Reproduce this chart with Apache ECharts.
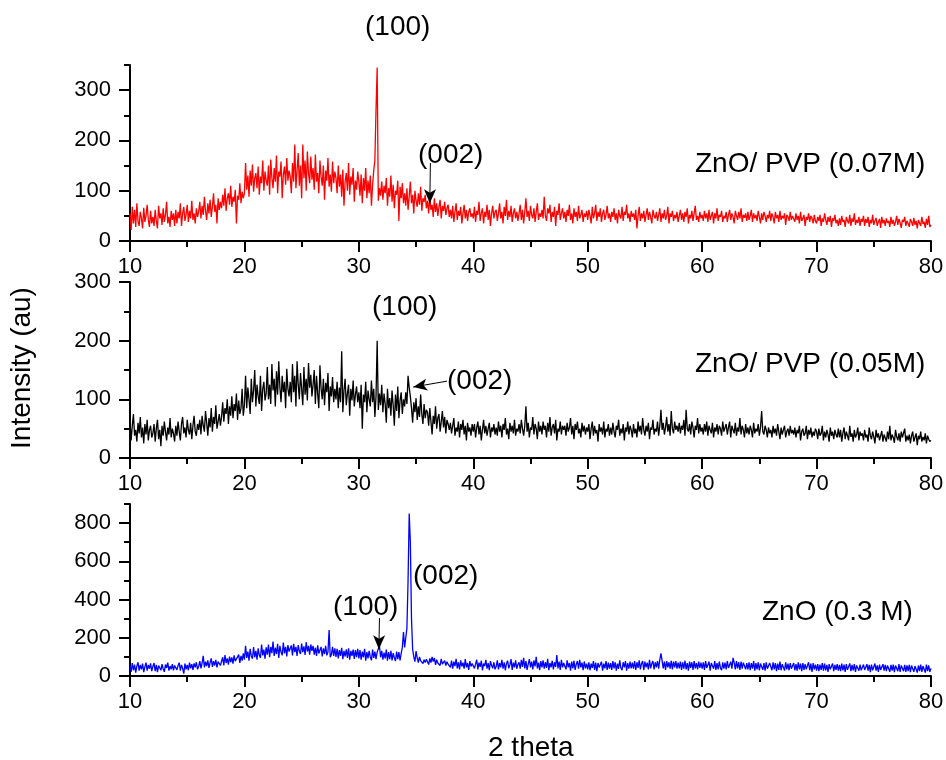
<!DOCTYPE html>
<html>
<head>
<meta charset="utf-8">
<script src="https://cdn.jsdelivr.net/npm/echarts@6/dist/echarts.min.js"></script>
<style>html,body{margin:0;padding:0;background:#fff;}#c{width:946px;height:760px;}</style>
</head>
<body>
<div id="c"></div>
<script>
// 2-theta sampling grid (degrees)
const twoThetaStart = 10;
const twoThetaStep = 0.1;
const xTicks = [10, 20, 30, 40, 50, 60, 70, 80];

// ZnO/ PVP (0.07M) intensities, one value per 0.1 deg from 10 to 80
const pvp007 = [
55,22,68,35,62,28,75,40,30,58, 45,25,66,38,50,72,42,28,60,35,
48,30,62,40,25,70,45,55,32,65, 38,52,78,35,48,28,60,42,55,30,
62,35,58,45,75,30,55,68,40,52, 72,38,60,45,80,42,55,35,65,48,
58,78,45,70,52,88,60,42,75,55, 82,48,68,95,58,72,35,85,62,78,
65,92,70,105,60,85,95,72,110,68, 88,78,102,35,90,82,115,75,98,85,
95,155,102,130,88,140,110,152,98,125, 135,105,148,92,128,115,160,100,138,120,
110,150,92,162,125,105,145,118,170,95, 138,128,158,85,132,148,112,165,120,140,
128,95,155,118,192,105,140,175,110,150, 85,192,125,160,100,178,135,115,168,122,
145,102,172,118,135,95,160,128,110,150, 82,140,120,165,108,132,98,158,115,138,
125,95,150,108,132,88,142,70,118,135, 100,155,92,128,112,145,78,120,102,138,
118,90,132,75,125,100,145,85,120,95, 130,70,112,140,160,262,345,80,105,90,
118,82,110,95,125,70,105,88,130,78, 112,65,100,92,120,40,108,85,115,75,
95,70,105,62,88,118,75,92,55,100, 80,68,95,72,108,60,85,78,92,65,
80,55,88,62,72,48,85,58,75,50, 68,82,45,70,60,78,52,65,72,48,
62,45,70,38,58,75,42,60,50,68, 35,55,72,45,62,40,58,65,48,55,
45,68,38,60,52,78,40,55,65,35, 58,48,72,42,62,30,55,70,45,58,
62,40,55,75,45,58,35,68,50,82, 42,60,48,70,38,55,65,45,58,40,
55,72,42,62,35,58,85,48,60,40, 70,52,45,65,38,58,75,42,55,48,
62,45,88,50,40,65,55,72,38,58, 48,68,30,60,52,75,42,55,65,45,
58,38,62,50,72,42,55,35,65,48, 58,40,70,45,52,62,38,55,48,60,
42,62,50,35,68,45,55,72,40,58, 48,65,38,55,62,42,52,70,45,55,
38,58,48,65,42,55,35,62,50,45, 68,40,58,52,72,45,55,38,60,48,
55,42,62,25,50,68,40,55,45,60, 38,52,65,42,58,48,35,62,50,45,
58,40,52,65,38,55,45,62,42,50, 68,35,55,48,60,40,52,45,58,38,
50,62,42,55,38,58,48,65,35,52, 45,60,40,55,70,42,50,38,58,45,
52,40,60,45,55,38,62,42,50,58, 35,55,45,65,40,52,48,60,38,50,
45,58,38,52,62,42,55,48,35,60, 50,42,58,45,65,38,52,46,55,40,
58,42,50,62,38,55,45,52,40,60, 48,35,55,42,58,50,38,52,45,60,
40,55,48,35,58,45,52,38,60,42, 50,45,55,32,52,48,40,58,42,50,
48,38,55,42,50,35,58,40,45,52, 30,48,42,55,38,50,45,35,52,40,
35,48,40,52,30,45,38,55,42,32, 48,38,50,28,45,40,52,35,42,30,
45,32,50,38,42,28,48,40,35,52, 30,45,38,55,32,42,36,48,30,44,
38,50,30,44,36,48,28,42,35,52, 32,40,46,30,38,44,26,48,35,42,
30,45,36,40,28,48,34,42,30,38, 50,32,44,36,26,42,38,48,30,40,
35,28,44,38,30,46,32,40,25,42, 36,30,48,34,38,26,44,32,50,28,
32];

// ZnO/ PVP (0.05M)
const pvp005 = [
62,30,55,75,38,48,28,60,42,70, 35,52,25,58,40,65,30,48,55,35,
42,58,28,50,65,32,48,20,55,38, 62,45,30,52,40,68,35,50,42,28,
55,38,62,45,30,58,70,42,52,35, 65,48,40,60,32,55,72,45,38,58,
48,65,40,72,55,45,80,60,38,68, 52,85,45,70,58,90,50,62,75,55,
70,95,62,85,75,100,58,88,72,105, 68,92,80,110,65,98,75,85,118,72,
90,140,85,120,100,75,135,95,115,150, 88,125,105,92,140,80,118,130,98,110,
155,100,125,92,160,115,135,88,148,108, 165,120,95,140,112,130,85,152,118,105,
130,95,160,112,140,88,165,125,100,145, 118,90,155,108,135,98,162,120,142,105,
125,150,92,140,110,85,158,118,100,135, 90,128,112,145,80,122,105,138,95,118,
100,130,85,120,95,182,78,115,135,90, 110,125,72,118,98,132,88,108,122,95,
112,85,125,50,108,95,130,78,115,100, 88,132,95,118,70,105,200,82,110,90,
125,78,110,92,60,118,85,102,72,115, 90,55,108,80,122,68,98,112,75,100,
88,112,92,140,120,105,85,60,95,78, 102,65,88,70,108,75,58,92,68,82,
78,55,85,62,40,72,58,88,50,68, 75,45,62,80,52,70,42,65,58,48,
60,42,55,68,38,52,45,62,35,58, 48,65,40,55,30,60,45,52,38,58,
45,58,35,52,62,40,55,30,48,65, 42,55,38,50,60,35,52,45,58,40,
52,38,62,45,55,35,58,48,68,40, 50,32,60,45,55,42,65,38,50,45,
58,42,65,50,38,55,88,45,60,35, 52,48,70,40,58,50,32,62,45,55,
40,62,48,55,35,60,45,70,38,52, 58,42,65,30,50,45,62,40,55,48,
55,38,60,45,52,68,40,55,32,58, 48,62,42,50,35,60,45,55,40,52,
45,58,32,50,62,38,55,42,48,28, 58,45,52,40,62,35,50,45,58,38,
52,40,60,45,35,55,48,65,38,50, 42,58,30,52,45,62,40,55,48,35,
58,42,50,35,62,45,55,40,68,48, 38,55,45,60,32,52,48,65,40,50,
45,62,38,55,82,48,60,40,52,70, 45,58,38,80,50,42,62,48,55,45,
60,42,55,48,65,38,82,50,45,58, 40,62,52,35,55,48,68,42,58,45,
52,40,58,45,62,38,55,48,42,60, 35,52,45,58,40,55,50,38,62,45,
45,58,40,52,62,35,55,48,42,60, 38,52,45,68,40,55,48,35,58,42,
52,40,55,48,35,60,42,50,45,58, 38,52,80,45,40,55,48,35,52,42,
48,35,55,42,50,38,58,45,32,52, 40,48,55,35,45,50,38,55,42,48,
40,52,35,48,42,55,30,45,50,38, 42,55,32,48,40,52,35,45,38,50,
45,32,50,38,42,55,30,45,35,48, 40,28,52,38,45,32,48,40,35,50,
35,48,28,42,52,32,45,38,30,55, 36,42,28,48,35,40,52,30,45,38,
42,30,48,35,40,28,52,38,32,45, 36,25,48,35,42,30,38,46,28,40,
38,28,45,32,55,30,40,35,26,48, 36,30,42,28,45,35,32,50,28,38,
30,40,25,38,45,28,35,42,22,38, 32,45,28,36,30,42,25,38,32,28,
30];

// ZnO (0.3 M)
const zno03 = [
55,22,68,30,60,18,52,72,28,58, 35,65,20,48,70,28,58,38,66,25,
50,68,25,58,20,55,65,30,62,38, 22,60,42,70,28,52,35,62,30,55,
62,32,55,70,28,58,40,12,65,35, 58,30,70,40,62,32,66,45,72,35,
50,78,40,68,105,45,75,52,82,42, 70,92,48,78,55,85,45,75,82,55,
62,98,55,110,68,92,60,102,72,98, 65,108,78,70,100,112,68,105,80,118,
85,158,95,128,80,142,105,90,152,98, 132,85,145,108,95,165,108,138,90,150,
112,165,98,152,120,180,105,148,115,168, 95,158,125,108,175,118,152,102,162,128,
118,160,108,168,125,152,105,162,130,115, 170,125,155,110,178,128,158,112,165,132,
158,112,148,105,160,118,110,152,102,145, 115,158,108,125,240,98,112,152,105,145,
100,142,92,135,105,148,88,132,102,140, 95,145,85,132,105,138,90,135,98,142,
92,135,85,128,98,142,80,125,92,132, 100,82,138,95,128,88,125,132,158,98,
132,85,122,92,138,80,125,88,132,82, 120,95,78,128,88,125,82,118,150,230,
150,200,250,500,850,700,300,140,100,75, 130,95,70,100,80,90,65,85,70,88,
80,60,92,70,100,75,95,58,85,68, 78,55,90,62,72,80,55,75,62,70,
45,80,38,75,52,90,40,72,35,82, 50,70,38,88,45,68,32,78,50,65,
75,40,62,85,35,70,48,80,30,65, 52,85,38,68,30,78,55,40,72,35,
50,82,35,68,45,85,38,72,30,65, 80,40,58,88,32,70,45,82,38,60,
72,38,85,48,95,40,78,32,62,88, 45,75,35,82,50,100,40,70,30,78,
45,82,38,72,42,90,30,68,45,80, 35,72,48,110,40,75,32,85,45,68,
72,35,82,45,68,28,75,40,80,32, 62,78,38,85,45,70,30,76,40,65,
35,72,30,65,42,78,32,70,25,68, 45,35,75,28,65,40,78,32,70,38,
68,32,78,40,72,28,65,38,82,42, 30,72,45,78,28,68,38,75,40,70,
38,78,32,72,42,82,35,65,78,30, 75,45,70,35,85,40,65,78,35,72,
45,78,38,85,118,80,40,75,32,78, 45,72,38,80,35,75,45,78,38,70,
40,75,32,72,38,80,35,68,28,75, 42,72,32,78,40,68,35,75,42,70,
38,72,32,78,42,35,75,28,68,72, 38,78,32,68,35,75,42,30,72,38,
70,35,78,42,32,75,38,95,70,35, 78,40,72,32,75,38,70,78,35,68,
35,72,30,68,38,78,28,68,35,72, 30,65,75,32,68,28,72,38,30,68,
65,30,72,35,68,25,65,32,75,30, 62,70,28,72,35,65,30,68,38,28,
68,30,62,28,72,35,65,25,68,32, 62,35,28,72,30,65,22,68,35,60,
28,62,25,60,32,68,28,65,30,58, 22,62,35,28,65,25,58,32,62,28,
58,25,65,30,60,22,62,32,28,66, 25,58,30,62,22,55,65,28,60,30,
25,60,32,22,62,28,58,20,60,30, 25,65,28,56,22,60,32,25,62,28,
58,25,55,62,22,58,28,60,20,55, 60,25,62,22,55,60,25,58,22,56,
25,58,20,55,62,22,52,58,18,55, 25,60,22,52,58,18,60,25,55,22,
40];

const seriesNames = ['ZnO/ PVP (0.07M)', 'ZnO/ PVP (0.05M)', 'ZnO (0.3 M)'];
const seriesColors = ['#ff0000', '#000000', '#0000ff'];
const yMax = [350, 300, 900];
const yMajor = [[0,100,200,300], [0,100,200,300], [0,200,400,600,800]];
const yMinorStep = [50, 50, 100];
// annotation arrows in data coords: [panel, x1, y1, x2, y2]
const arrows = [
  [0, 36.25, 155, 36.2, 75],
  [1, 37.7, 131, 34.75, 121],
  [2, 31.8, 303, 31.75, 140]
];

const FONT = 'Liberation Sans, Arial, sans-serif';
const toPairs = arr => arr.map((v, i) => [+(twoThetaStart + i * twoThetaStep).toFixed(2), v]);
const allData = [pvp007, pvp005, zno03];

const gridPos = [
  {top: 65, height: 176},
  {top: 282, height: 176},
  {top: 504, height: 172}
];

const grids = gridPos.map(g => ({left: 130, right: 15, top: g.top, height: g.height, containLabel: false, outerBoundsMode: 'none'}));

const axisLineStyle = {color: '#000', width: 2};

const xAxes = gridPos.map((g, i) => ({
  type: 'value', gridIndex: i, min: 10, max: 80, interval: 10,
  axisLine: {show: true, onZero: false, lineStyle: axisLineStyle},
  axisTick: {show: true, length: 11, lineStyle: {color: '#000', width: 2}},
  minorTick: {show: true, splitNumber: 2, length: 6, lineStyle: {color: '#000', width: 2}},
  axisLabel: {show: true, margin: 15, color: '#000', fontSize: 22, fontFamily: FONT,
    customValues: xTicks},
  splitLine: {show: false}, minorSplitLine: {show: false}
}));

const yAxes = [];
gridPos.forEach((g, i) => {
  yAxes.push({
    type: 'value', gridIndex: i, min: 0, max: yMax[i], interval: yMajor[i][1],
    axisLine: {show: true, onZero: false, lineStyle: axisLineStyle},
    axisTick: {show: true, length: 11, lineStyle: {color: '#000', width: 2}, customValues: yMajor[i]},
    axisLabel: {show: true, margin: 19, color: '#000', fontSize: 22, fontFamily: FONT, customValues: yMajor[i],
      formatter: v => (yMajor[i].indexOf(v) >= 0 ? String(v) : '')},
    splitLine: {show: false}
  });
  yAxes.push({
    type: 'value', gridIndex: i, min: 0, max: yMax[i], interval: yMinorStep[i], position: 'left',
    axisLine: {show: false},
    axisTick: {show: true, length: 6, lineStyle: {color: '#000', width: 2}},
    axisLabel: {show: false},
    splitLine: {show: false}
  });
});

const series = allData.map((arr, i) => ({
  name: seriesNames[i], type: 'line', xAxisIndex: i, yAxisIndex: i * 2,
  data: toPairs(arr), showSymbol: false, symbol: 'none', silent: true,
  lineStyle: {color: seriesColors[i], width: 1.3}, itemStyle: {color: seriesColors[i]},
  animation: false,
  markLine: {
    silent: true, animation: false,
    symbol: ['none', 'arrow'], symbolSize: [9, 14],
    label: {show: false},
    lineStyle: {color: '#000', width: 1, type: 'solid'},
    data: arrows.filter(a => a[0] === i).map(a => [{coord: [a[1], a[2]]}, {coord: [a[3], a[4]]}])
  }
}));

const txt = (x, y, text, size, extra) => Object.assign({
  type: 'text', x: x, y: y, silent: true,
  style: {text: text, fill: '#000', fontSize: size, fontFamily: FONT, align: 'left', verticalAlign: 'middle'}
}, extra || {});

const graphics = [
  txt(365, 27, '(100)', 28),
  txt(418, 155, '(002)', 28),
  txt(695, 164, seriesNames[0], 28),
  txt(372, 307, '(100)', 28),
  txt(447, 381, '(002)', 28),
  txt(695, 364, seriesNames[1], 28),
  txt(333, 607, '(100)', 28),
  txt(413, 576, '(002)', 28),
  txt(762, 612, seriesNames[2], 28),
  txt(488, 748, '2 theta', 28),
  {type: 'text', x: 22, y: 368, rotation: Math.PI / 2, silent: true,
   style: {text: 'Intensity (au)', fill: '#000', fontSize: 28, fontFamily: FONT, align: 'center', verticalAlign: 'middle'}}
];
// length sanity check (shows only if a series is mis-sized)
const lens = allData.map(a => a.length);
if (lens.some(l => l !== 701)) graphics.push(txt(140, 720, 'LEN ' + lens.join(','), 12));

const chart = echarts.init(document.getElementById('c'), null, {renderer: 'canvas'});
chart.setOption({
  animation: false,
  backgroundColor: '#fff',
  grid: grids,
  xAxis: xAxes,
  yAxis: yAxes,
  series: series,
  graphic: graphics
});
</script>
</body>
</html>
